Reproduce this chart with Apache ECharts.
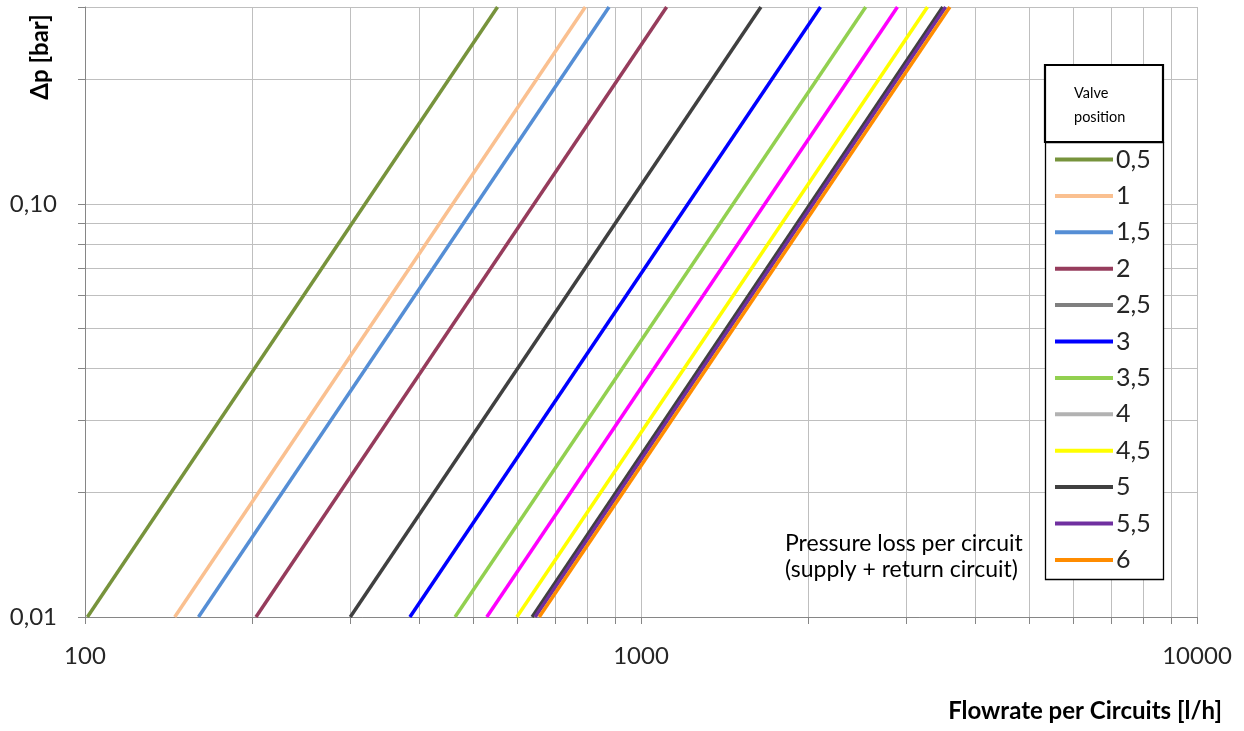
<!DOCTYPE html>
<html>
<head>
<meta charset="utf-8">
<script src="https://cdn.jsdelivr.net/npm/echarts@6/dist/echarts.min.js"></script>
<style>
html,body{margin:0;padding:0;background:#fff;}
#chart{width:1244px;height:731px;}
</style>
</head>
<body>
<div id="chart"></div>
<script>
// Valve positions (legend labels)
const valvePositions = ['0,5','1','1,5','2','2,5','3','3,5','4','4,5','5','5,5','6'];
// Flow rate [l/h] read where each line crosses 0.01 bar
const flowAtLowDp = [101, 145, 160, 203, 300, 384, 463, 528, 598, 637, 645, 656];
// Flow rate [l/h] read where each line crosses 0.3 bar (top of chart)
const flowAtHighDp = [552, 794, 876, 1112, 1643, 2103, 2536, 2892, 3275, 3489, 3531, 3593];
const lowDp = 0.01;
const highDp = 0.3;
// Line colours and legend colours
const lineColors = ['#77933C','#FAC090','#558ED5','#963C5C','#404040','#0000FF','#92D050','#FF00FF','#FFFF00','#404040','#7030A0','#FF8C00'];
const legendColors = ['#77933C','#FAC090','#558ED5','#963C5C','#7F7F7F','#0000FF','#92D050','#B2B2B2','#FFFF00','#404040','#7030A0','#FF8C00'];
// Axis ticks
const xTicks = [100,200,300,400,500,600,700,800,900,1000,2000,3000,4000,5000,6000,7000,8000,9000,10000];
const xLabels = [100, 1000, 10000];
const yTicks = [0.01,0.02,0.03,0.04,0.05,0.06,0.07,0.08,0.09,0.1,0.2,0.3];
const yLabels = [0.01, 0.1];

const FONT = 'Lato, "Open Sans", sans-serif';
const chart = echarts.init(document.getElementById('chart'));

const series = valvePositions.map((name, i) => ({
  name: name,
  type: 'line',
  data: [[flowAtLowDp[i], lowDp], [flowAtHighDp[i], highDp]],
  showSymbol: false,
  symbol: 'none',
  lineStyle: { color: lineColors[i], width: 3.5 },
  itemStyle: { color: lineColors[i] },
  emphasis: { disabled: true },
  silent: true,
  animation: false,
  z: 3
}));

const option = {
  animation: false,
  backgroundColor: '#fff',
  grid: { left: 85, right: 47, top: 7, bottom: 114, containLabel: false },
  xAxis: {
    type: 'log',
    logBase: 10,
    min: 100,
    max: 10000,
    axisLine: { show: true, lineStyle: { color: '#868686', width: 1 } },
    axisTick: { show: true, length: 7, customValues: xTicks, lineStyle: { color: '#868686' } },
    axisLabel: {
      customValues: xLabels,
      margin: 27,
      fontSize: 24,
      color: '#262626',
      fontFamily: FONT,
      formatter: v => String(Math.round(v))
    },
    splitLine: { show: true, lineStyle: { color: '#BFBFBF', width: 1 } }
  },
  yAxis: {
    type: 'log',
    logBase: 10,
    min: 0.01,
    max: 0.3,
    axisLine: { show: true, lineStyle: { color: '#868686', width: 1 } },
    axisTick: { show: true, length: 7, customValues: yTicks, lineStyle: { color: '#868686' } },
    axisLabel: {
      customValues: yLabels,
      margin: 28,
      fontSize: 24,
      color: '#262626',
      fontFamily: FONT,
      formatter: v => v.toFixed(2).replace('.', ',')
    },
    splitLine: { show: true, lineStyle: { color: '#BFBFBF', width: 1 } }
  },
  legend: {
    orient: 'vertical',
    left: 1055,
    top: 147,
    itemWidth: 58,
    itemHeight: 14,
    itemGap: 11.4,
    padding: 0,
    z: 20,
    selectedMode: false,
    textStyle: { fontSize: 25, color: '#262626', fontFamily: FONT, padding: [0, 0, 0, -2] },
    data: valvePositions.map((name, i) => ({
      name: name,
      icon: 'path://M0,0 L58,0 L58,4 L0,4 Z',
      itemStyle: { color: legendColors[i] },
      lineStyle: { color: legendColors[i] }
    }))
  },
  graphic: [
    {
      type: 'rect', z: 10,
      shape: { x: 1045.5, y: 142.5, width: 118, height: 437 },
      style: { fill: '#fff', stroke: '#000', lineWidth: 1.3 }
    },
    {
      type: 'rect', z: 11,
      shape: { x: 1045, y: 65, width: 118, height: 77 },
      style: { fill: '#fff', stroke: '#000', lineWidth: 2.2 }
    },
    {
      type: 'text', z: 12, left: 1074, top: 81,
      style: { text: 'Valve\nposition', fontSize: 14.5, lineHeight: 24, fill: '#000', fontFamily: FONT }
    },
    {
      type: 'text', z: 12, left: 785, top: 531,
      style: { text: 'Pressure loss per circuit\n(supply + return circuit)', fontSize: 23, lineHeight: 26, fill: '#000', fontFamily: FONT }
    },
    {
      type: 'text', z: 12, right: 22, top: 699,
      style: { text: 'Flowrate per Circuits [l/h]', fontSize: 24, fontWeight: 'bold', fill: '#000', fontFamily: FONT }
    },
    {
      type: 'text', z: 12, x: 40, y: 57, rotation: Math.PI / 2,
      style: { text: 'Δp [bar]', fontSize: 24, fontWeight: 'bold', fill: '#000', fontFamily: FONT, align: 'center', verticalAlign: 'middle' }
    }
  ],
  series: series
};
chart.setOption(option);
</script>
</body>
</html>
